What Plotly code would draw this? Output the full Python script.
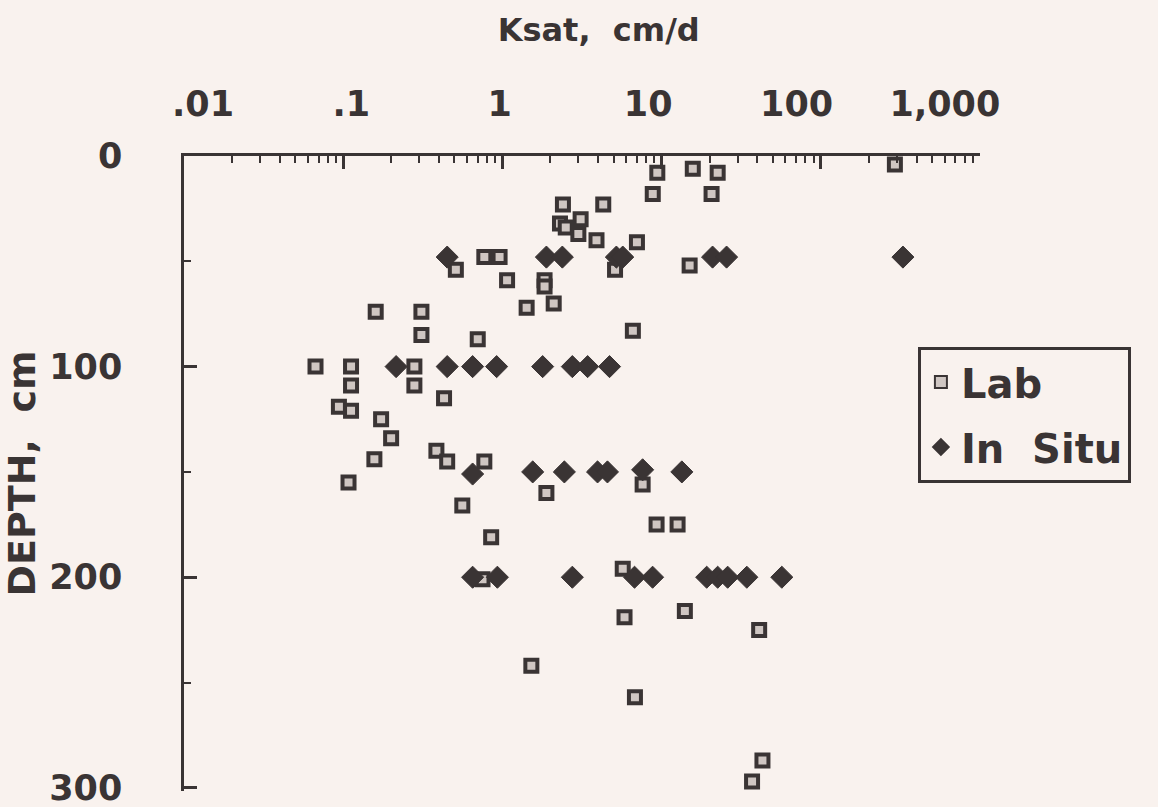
import plotly.graph_objects as go

# ---- data ----
lab_ksat = [9.4, 15.7, 22.5, 292, 8.8, 20.6, 2.4, 4.3, 3.1, 2.3,
            2.5, 3.0, 3.9, 7.0, 0.51, 0.77, 0.96, 1.07, 1.84, 1.84,
            5.1, 15.0, 1.42, 2.1, 0.16, 0.31, 0.31, 0.70, 6.6, 0.067,
            0.112, 0.28, 0.112, 0.28, 0.43, 0.094, 0.112, 0.173, 0.20, 0.157,
            0.385, 0.45, 0.77, 0.108, 7.6, 1.89, 0.56, 0.85, 9.3, 12.6,
            0.75, 5.7, 5.85, 14.0, 41, 1.52, 6.8, 43, 37]
lab_depth = [8, 6, 8, 4, 18, 18, 23, 23, 30, 32,
             34, 37, 40, 41, 54, 48, 48, 59, 59, 62,
             54, 52, 72, 70, 74, 74, 85, 87, 83, 100,
             100, 100, 109, 109, 115, 119, 121, 125, 134, 144,
             140, 145, 145, 155, 156, 160, 166, 181, 175, 175,
             201, 196, 219, 216, 225, 242, 257, 287, 297]

insitu_ksat = [0.45, 1.89, 2.38, 5.2, 5.7, 20.9, 25.6, 328,
               0.215, 0.45, 0.65, 0.92, 1.79, 2.75, 3.43, 4.71,
               0.65, 1.55, 2.45, 3.96, 4.57, 7.6, 13.4,
               0.65, 0.93, 2.75, 6.76, 8.78, 19.2, 22.5, 26, 34.3, 56.9]
insitu_depth = [48, 48, 48, 48, 48, 48, 48, 48,
                100, 100, 100, 100, 100, 100, 100, 100,
                151, 150, 150, 150, 150, 149, 150,
                200, 200, 200, 200, 200, 200, 200, 200, 200, 200]

x_tick_vals = [0.01, 0.1, 1, 10, 100, 1000]
x_tick_text = [".01", ".1", "1", "10", "100", "1,000"]
x_minor_vals = [m * d for d in [0.01, 0.1, 1, 10, 100] for m in range(2, 10)]
y_tick_vals = [0, 100, 200, 300]
y_tick_text = ["0", "100", "200", "300"]
y_minor_vals = [50, 150, 250]

INK = "#3a3434"
BG = "#f9f2ee"
FONT = "DejaVu Sans"

fig = go.Figure()
fig.add_trace(go.Scatter(
    x=lab_ksat, y=lab_depth, mode="markers", name="Lab",
    legendgroup="lab",
    marker=dict(symbol="square", size=12, color="#cfc6c2",
                line=dict(color=INK, width=4)),
))
fig.add_trace(go.Scatter(
    x=insitu_ksat, y=insitu_depth, mode="markers", name="In  Situ",
    legendgroup="insitu",
    marker=dict(symbol="diamond", size=17, color=INK,
                line=dict(color=INK, width=1)),
))
# empty trace that carries the label-only top axis
fig.add_trace(go.Scatter(x=[], y=[], xaxis="x2", yaxis="y",
                         showlegend=False, hoverinfo="skip"))

fig.update_layout(
    width=1158, height=807,
    margin=dict(l=184, r=178, t=156, b=16, autoexpand=False),
    paper_bgcolor=BG, plot_bgcolor=BG,
    font=dict(family=FONT, color=INK, weight="bold"),
    title=dict(text="Ksat,  cm/d", x=0.517, xanchor="center",
               y=0.963, yanchor="middle", yref="container",
               font=dict(size=32, family=FONT, color=INK, weight="bold")),
    xaxis=dict(
        type="log", range=[-2, 3], side="top", anchor="y",
        showline=True, linewidth=3, linecolor=INK, mirror=False,
        ticks="inside", ticklen=13, tickwidth=2.5, tickcolor=INK,
        tickvals=x_tick_vals, showticklabels=False,
        minor=dict(tickvals=x_minor_vals, ticks="inside", ticklen=7,
                   tickwidth=2, tickcolor=INK, showgrid=False),
        showgrid=False, zeroline=False,
    ),
    xaxis2=dict(
        type="log", range=[-2.128, 3.236], side="top", anchor="y",
        overlaying="x", showline=False, ticks="",
        tickvals=x_tick_vals, ticktext=x_tick_text,
        tickfont=dict(size=35, family=FONT, color=INK, weight="bold"),
        ticklabelstandoff=32, showgrid=False, zeroline=False,
    ),
    yaxis=dict(
        range=[301.5, 0], showline=True, linewidth=2.5, linecolor=INK,
        ticks="inside", ticklen=13, tickwidth=2.5, tickcolor=INK,
        tickmode="array", tickvals=y_tick_vals, ticktext=y_tick_text,
        tickfont=dict(size=35, family=FONT, color=INK, weight="bold"),
        ticklabelstandoff=52, ticklabeloverflow="allow",
        minor=dict(tickvals=y_minor_vals, ticks="inside", ticklen=7,
                   tickwidth=2, tickcolor=INK, showgrid=False),
        showgrid=False, zeroline=False,
        title=dict(text="DEPTH,  cm", standoff=10,
                   font=dict(size=38, family=FONT, color=INK, weight="bold")),
    ),
    legend=dict(
        x=0.922, y=0.70, xanchor="left", yanchor="top",
        bgcolor=BG, bordercolor=INK, borderwidth=3,
        font=dict(size=40, family=FONT, color=INK, weight="bold"),
        tracegroupgap=10, itemsizing="constant",
    ),
    showlegend=True,
)

fig.write_html("out.html")
